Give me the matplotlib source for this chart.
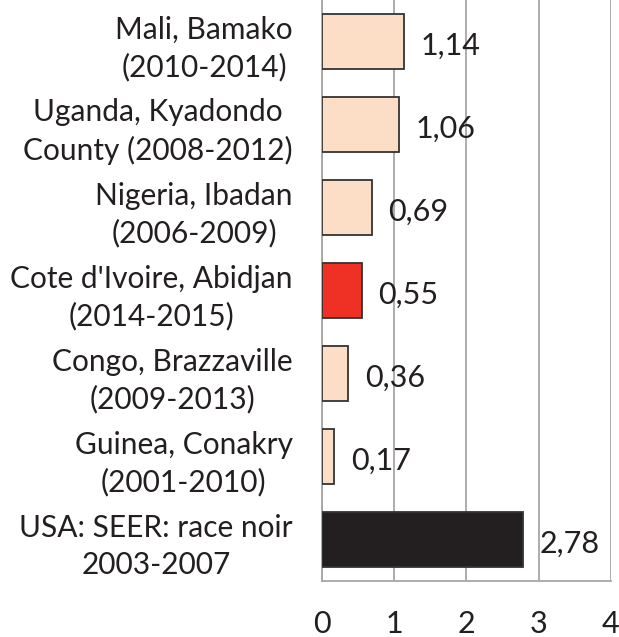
import matplotlib.pyplot as plt

categories = [
    'Mali, Bamako\n(2010-2014)',
    'Uganda, Kyadondo\nCounty (2008-2012)',
    'Nigeria, Ibadan\n(2006-2009)',
    "Cote d'Ivoire, Abidjan\n(2014-2015)",
    'Congo, Brazzaville\n(2009-2013)',
    'Guinea, Conakry\n(2001-2010)',
    'USA: SEER: race noir\n2003-2007',
]
values = [1.14, 1.06, 0.69, 0.55, 0.36, 0.17, 2.78]
value_labels = ['1,14', '1,06', '0,69', '0,55', '0,36', '0,17', '2,78']
colors = ['#FCDEC6', '#FCDEC6', '#FCDEC6', '#EE3124', '#FCDEC6', '#FCDEC6', '#231F20']
x_ticks = [0, 1, 2, 3, 4]

plt.rcParams['font.family'] = ['Lato', 'DejaVu Sans']

fig = plt.figure(figsize=(6.19, 6.37), dpi=100)
ax = fig.add_axes([0.5202, 0.0879, 0.987 - 0.5202, 1 - 0.0879])

pos = list(range(len(categories)))
ax.barh(pos, values, height=0.67, color=colors, edgecolor='#333333', linewidth=1.3, zorder=3)

for p, v, lab in zip(pos, values, value_labels):
    ax.annotate(lab, (v, p), xytext=(12, -3), textcoords='offset points',
                ha='left', va='center', fontsize=22, color='#231F20')

ax.set_ylim(len(categories) - 0.5, -0.5)
ax.set_xlim(0, 4)
ax.set_xticks(x_ticks)
ax.set_xticklabels([str(t) for t in x_ticks])
ax.set_yticks(pos)
ax.set_yticklabels(categories, multialignment='center', linespacing=1.4)

ax.tick_params(axis='x', length=0, pad=21, labelsize=22, colors='#231F20')
ax.tick_params(axis='y', length=0, pad=21, labelsize=21.5, colors='#231F20')

ax.grid(axis='x', color='#A6A6A6', linewidth=1.3, zorder=0)
for s in ['top', 'right']:
    ax.spines[s].set_visible(False)
for s in ['left', 'bottom']:
    ax.spines[s].set_color('#A6A6A6')
    ax.spines[s].set_linewidth(1.3)

fig.savefig('out.png', dpi=100)
